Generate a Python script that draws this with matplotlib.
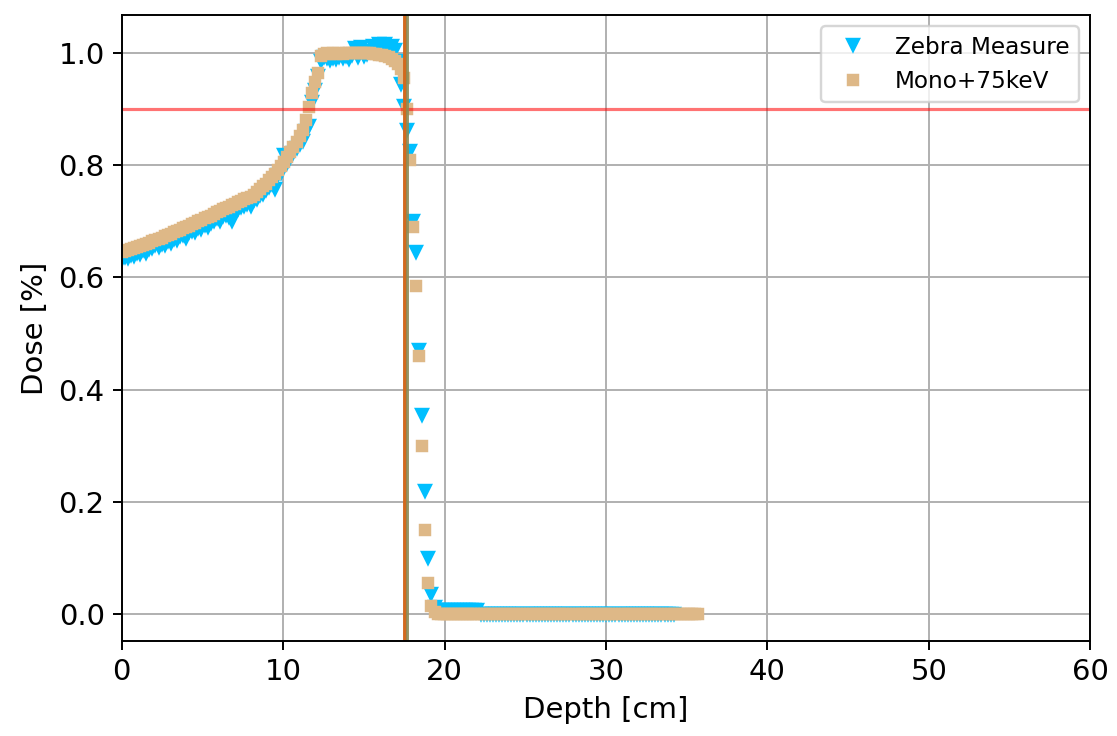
import numpy as np
import matplotlib
matplotlib.use('Agg')
import matplotlib.pyplot as plt

# sampling step of both depth-dose curves [cm]
step = 0.19

zebra_dose = [
    0.633, 0.637, 0.635, 0.640, 0.638, 0.643, 0.641, 0.648, 0.644, 0.650,
    0.652, 0.657, 0.654, 0.660, 0.658, 0.665, 0.662, 0.669, 0.666, 0.674,
    0.676, 0.671, 0.681, 0.683, 0.680, 0.688, 0.686, 0.694, 0.689, 0.697,
    0.700, 0.705, 0.701, 0.709, 0.711, 0.707, 0.700, 0.719, 0.722, 0.725,
    0.727, 0.731, 0.728, 0.737, 0.740, 0.746, 0.749, 0.755, 0.761, 0.766,
    0.758, 0.782, 0.786, 0.818, 0.804, 0.812, 0.821, 0.830, 0.838, 0.843,
    0.860, 0.870, 0.912, 0.933, 0.958, 0.985, 0.992, 0.990, 0.988, 0.991,
    0.989, 0.993, 0.990, 0.994, 0.989, 0.996, 1.008, 0.992, 1.010, 0.995,
    0.998, 1.003, 1.012, 1.005, 1.015, 1.010, 1.016, 1.008, 1.013, 1.005,
    0.985, 0.945, 0.905, 0.862, 0.825, 0.700, 0.645, 0.470, 0.355, 0.220,
    0.100, 0.036, 0.012, 0.008, 0.007, 0.007, 0.007, 0.007, 0.007, 0.007,
    0.007, 0.007, 0.007, 0.007, 0.007, 0.007, 0.007, 0.000, 0.000, 0.000,
    0.000, 0.000, 0.000, 0.000, 0.000, 0.000, 0.000, 0.000, 0.000, 0.000,
    0.000, 0.000, 0.000, 0.000, 0.000, 0.000, 0.000, 0.000, 0.000, 0.000,
    0.000, 0.000, 0.000, 0.000, 0.000, 0.000, 0.000, 0.000, 0.000, 0.000,
    0.000, 0.000, 0.000, 0.000, 0.000, 0.000, 0.000, 0.000, 0.000, 0.000,
    0.000, 0.000, 0.000, 0.000, 0.000, 0.000, 0.000, 0.000, 0.000, 0.000,
    0.000, 0.000, 0.000, 0.000, 0.000, 0.000, 0.000, 0.000, 0.000, 0.000,
    0.000,
]

mono_dose = [
    0.645, 0.647, 0.649, 0.651, 0.653, 0.655, 0.656, 0.658, 0.660, 0.662,
    0.665, 0.667, 0.669, 0.671, 0.674, 0.676, 0.678, 0.681, 0.683, 0.685,
    0.688, 0.690, 0.692, 0.695, 0.697, 0.700, 0.702, 0.705, 0.707, 0.710,
    0.713, 0.716, 0.718, 0.721, 0.724, 0.726, 0.729, 0.731, 0.734, 0.736,
    0.739, 0.741, 0.744, 0.747, 0.752, 0.757, 0.762, 0.767, 0.773, 0.778,
    0.785, 0.791, 0.798, 0.805, 0.814, 0.823, 0.832, 0.842, 0.852, 0.862,
    0.881, 0.904, 0.929, 0.948, 0.965, 0.995, 0.998, 0.999, 0.998, 0.999,
    0.998, 0.999, 0.998, 0.999, 0.999, 1.000, 0.999, 1.000, 0.999, 1.000,
    0.999, 0.999, 0.998, 0.998, 0.997, 0.996, 0.994, 0.992, 0.989, 0.985,
    0.980, 0.972, 0.955, 0.900, 0.810, 0.690, 0.585, 0.460, 0.300, 0.150,
    0.055, 0.015, 0.004, 0.001, 0.000, 0.000, 0.000, 0.000, 0.000, 0.000,
    0.000, 0.000, 0.000, 0.000, 0.000, 0.000, 0.000, 0.000, 0.000, 0.000,
    0.000, 0.000, 0.000, 0.000, 0.000, 0.000, 0.000, 0.000, 0.000, 0.000,
    0.000, 0.000, 0.000, 0.000, 0.000, 0.000, 0.000, 0.000, 0.000, 0.000,
    0.000, 0.000, 0.000, 0.000, 0.000, 0.000, 0.000, 0.000, 0.000, 0.000,
    0.000, 0.000, 0.000, 0.000, 0.000, 0.000, 0.000, 0.000, 0.000, 0.000,
    0.000, 0.000, 0.000, 0.000, 0.000, 0.000, 0.000, 0.000, 0.000, 0.000,
    0.000, 0.000, 0.000, 0.000, 0.000, 0.000, 0.000, 0.000, 0.000, 0.000,
    0.000, 0.000, 0.000, 0.000, 0.000, 0.000, 0.000, 0.000, 0.000,
]

zebra_depth = np.arange(len(zebra_dose)) * step
mono_depth = np.arange(len(mono_dose)) * step

dose_level = 0.9      # horizontal reference line
range_zebra = 17.53   # vertical lines (range at 90 %)
range_mono = 17.69

fig = plt.figure(figsize=(1117 / 175, 736 / 175), dpi=175)
ax = fig.add_axes([0.109, 0.129, 0.867, 0.851])

ax.plot(zebra_depth, zebra_dose, 'v', color='deepskyblue', markersize=4.6,
        linestyle='none', label='Zebra Measure')
ax.plot(mono_depth, mono_dose, 's', color='burlywood', markersize=3.8,
        linestyle='none', label='Mono+75keV')

ax.axhline(dose_level, color='red', alpha=0.55, linewidth=1.3)
ax.axvline(range_zebra, color='chocolate', linewidth=1.6)
ax.axvline(range_mono, color='#8c8a55', alpha=0.9, linewidth=1.2)

ax.set_xlim(0, 60)
ax.set_ylim(-0.048, 1.068)
ax.set_yticks([0.0, 0.2, 0.4, 0.6, 0.8, 1.0])
ax.tick_params(labelsize=12)
ax.set_xlabel('Depth [cm]', fontsize=12)
ax.set_ylabel('Dose [%]', fontsize=12)
ax.grid(True)
ax.legend(loc='upper right', fontsize=9.5)

fig.savefig('out.png', dpi=175)
